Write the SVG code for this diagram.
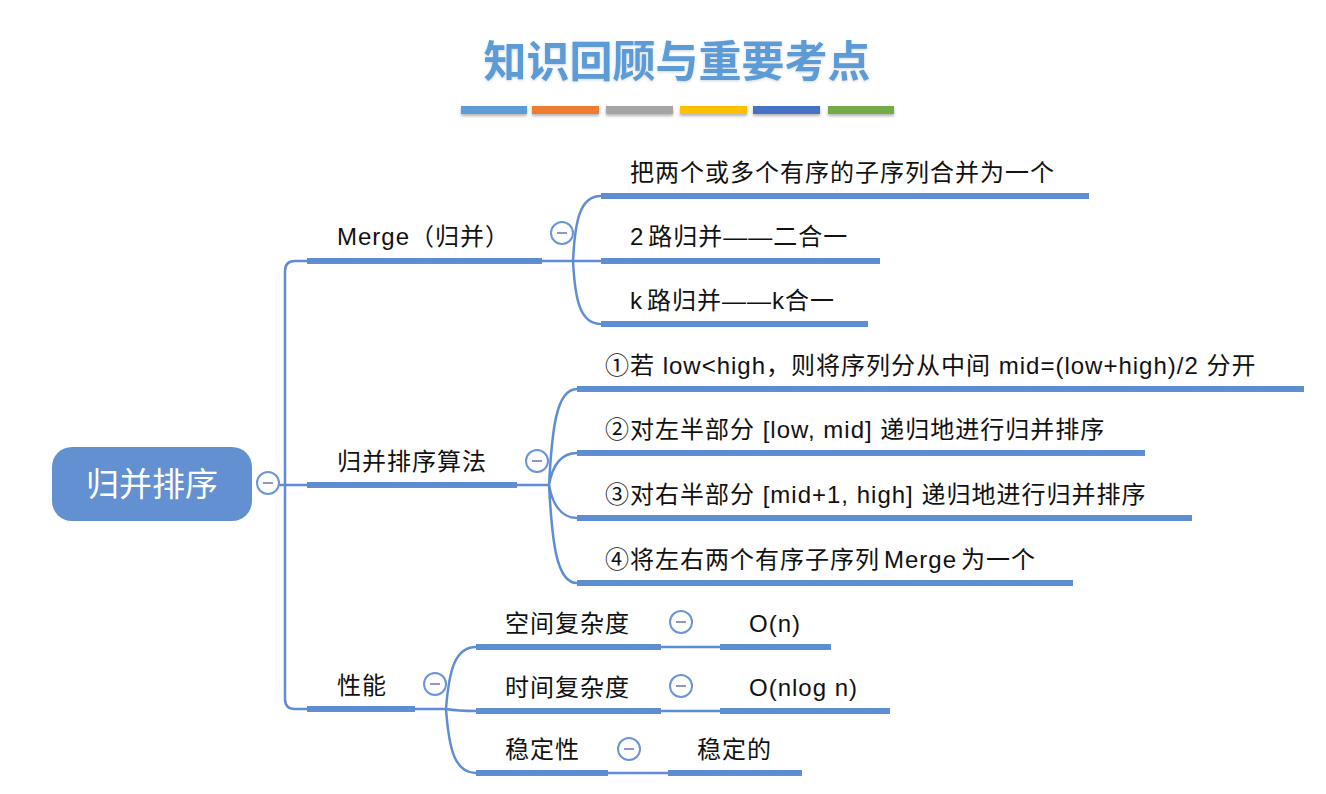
<svg xmlns="http://www.w3.org/2000/svg" width="1326" height="794" viewBox="0 0 1326 794">
<defs>
<filter id="tsh" x="-10%" y="-20%" width="120%" height="150%"><feDropShadow dx="0" dy="1" stdDeviation="1.5" flood-color="#9ab" flood-opacity="0.5"/></filter>
<filter id="bsh" x="-10%" y="-50%" width="120%" height="300%"><feDropShadow dx="0" dy="2" stdDeviation="1.5" flood-color="#555" flood-opacity="0.45"/></filter>
<g id="minus"><circle r="11" fill="#fff" stroke="#6a96d8" stroke-width="2"/><line x1="-5" y1="0" x2="5" y2="0" stroke="#8f96c8" stroke-width="2"/></g>
</defs>
<style>
.t{font-family:"Liberation Sans","Noto Sans CJK SC",sans-serif;font-size:24px;letter-spacing:1px;fill:#111}
.bar{stroke:#5f8dd3;stroke-width:6;fill:none}
.ln{stroke:#5f8dd3;stroke-width:2.5;fill:none}
</style>
<rect width="1326" height="794" fill="#fff"/>
<g id="title">
<text x="677" y="77" text-anchor="middle" font-family="Noto Sans CJK SC,sans-serif" font-size="43" font-weight="bold" fill="#5b9bd5" filter="url(#tsh)">知识回顾与重要考点</text>
<g filter="url(#bsh)">
<rect x="461" y="106" width="66" height="8" fill="#5b9bd5"/>
<rect x="532" y="106" width="67" height="8" fill="#ed7d31"/>
<rect x="606" y="106" width="67" height="8" fill="#a5a5a5"/>
<rect x="680" y="106" width="67" height="8" fill="#ffc000"/>
<rect x="753" y="106" width="67" height="8" fill="#4472c4"/>
<rect x="828" y="106" width="66" height="8" fill="#70ad47"/>
</g>
</g>
<g id="connectors">
<path class="ln" d="M307,261 H295 Q285,261 285,271 V699 Q285,709 295,709 H307"/>
<path class="ln" d="M279,485 H307"/>
<path class="ln" d="M542,261 H601 M573,261 C575,220 580,196 601,196 M573,261 C575,300 580,324 601,324"/>
<path class="ln" d="M517,485 H549 M549,485 C552,430 556,389 577,389 M549,485 C552,468 560,453 577,453 M549,485 C552,502 560,518 577,518 M549,485 C552,540 556,583 577,583"/>
<path class="ln" d="M415,709 H446 M446,709 C449,670 455,647 476,647 M446,709 C452,710 462,711 476,711 M446,709 C449,750 455,773 476,773"/>
<path class="ln" d="M661,647 H720 M661,711 H720 M608,773 H668"/>
</g>
<g id="root">
<rect x="52" y="447" width="200" height="74" rx="20" fill="#6390d0"/>
<text x="152" y="496" text-anchor="middle" font-family="Noto Sans CJK SC,sans-serif" font-size="33" fill="#fff">归并排序</text>
<use href="#minus" x="268" y="483"/>
</g>
<g id="merge">
<line class="bar" x1="307" y1="261" x2="542" y2="261"/>
<text class="t" x="337" y="245">Merge（归并）</text>
<use href="#minus" x="562" y="233"/>
</g>
<g id="merge-1"><line class="bar" x1="601" y1="196" x2="1089" y2="196"/><text class="t" x="630" y="181">把两个或多个有序的子序列合并为一个</text></g>
<g id="merge-2"><line class="bar" x1="601" y1="261" x2="880" y2="261"/><text class="t" x="630" y="245">2<tspan dx="4">路归并——二合一</tspan></text></g>
<g id="merge-3"><line class="bar" x1="601" y1="324" x2="868" y2="324"/><text class="t" x="630" y="309">k<tspan dx="4">路归并——k合一</tspan></text></g>
<g id="sort">
<line class="bar" x1="307" y1="485" x2="517" y2="485"/>
<text class="t" x="337" y="470">归并排序算法</text>
<use href="#minus" x="537" y="461"/>
</g>
<g id="sort-1"><line class="bar" x1="577" y1="389" x2="1304" y2="389"/><text class="t" x="605" y="374">①若 low&lt;high，则将序列分从中间 mid=(low+high)/2 分开</text></g>
<g id="sort-2"><line class="bar" x1="577" y1="453" x2="1145" y2="453"/><text class="t" x="605" y="438">②对左半部分 [low, mid] 递归地进行归并排序</text></g>
<g id="sort-3"><line class="bar" x1="577" y1="518" x2="1192" y2="518"/><text class="t" x="605" y="503">③对右半部分 [mid+1, high] 递归地进行归并排序</text></g>
<g id="sort-4"><line class="bar" x1="577" y1="583" x2="1073" y2="583"/><text class="t" x="605" y="568">④将左右两个有序子序列<tspan dx="4">Merge</tspan><tspan dx="4">为一个</tspan></text></g>
<g id="perf">
<line class="bar" x1="307" y1="709" x2="415" y2="709"/>
<text class="t" x="337" y="694">性能</text>
<use href="#minus" x="435" y="684"/>
</g>
<g id="space"><line class="bar" x1="476" y1="647" x2="661" y2="647"/><text class="t" x="505" y="632">空间复杂度</text><use href="#minus" x="681" y="622"/></g>
<g id="space-v"><line class="bar" x1="720" y1="647" x2="831" y2="647"/><text class="t" x="749" y="632">O(n)</text></g>
<g id="time"><line class="bar" x1="476" y1="711" x2="661" y2="711"/><text class="t" x="505" y="696">时间复杂度</text><use href="#minus" x="681" y="686"/></g>
<g id="time-v"><line class="bar" x1="720" y1="711" x2="890" y2="711"/><text class="t" x="749" y="696">O(nlog n)</text></g>
<g id="stable"><line class="bar" x1="476" y1="773" x2="608" y2="773"/><text class="t" x="505" y="758">稳定性</text><use href="#minus" x="629" y="749"/></g>
<g id="stable-v"><line class="bar" x1="668" y1="773" x2="802" y2="773"/><text class="t" x="697" y="758">稳定的</text></g>
</svg>
